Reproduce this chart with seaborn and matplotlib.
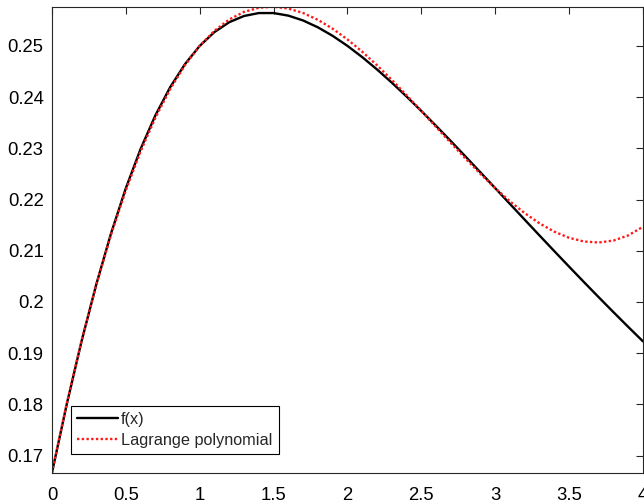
import numpy as np
import pandas as pd
import matplotlib
matplotlib.use("Agg")
import matplotlib.pyplot as plt
import seaborn as sns

x_vals = [0.0, 0.1, 0.2, 0.3, 0.4, 0.5, 0.6, 0.7, 0.8, 0.9, 1.0,
          1.1, 1.2, 1.3, 1.4, 1.5, 1.6, 1.7, 1.8, 1.9, 2.0,
          2.1, 2.2, 2.3, 2.4, 2.5, 2.6, 2.7, 2.8, 2.9, 3.0,
          3.1, 3.2, 3.3, 3.4, 3.5, 3.6, 3.7, 3.8, 3.9, 4.0]

f_vals = [0.166667, 0.180033, 0.192308, 0.203443, 0.213415, 0.222222, 0.229885, 0.236439, 0.241935, 0.246433, 0.250000,
          0.252708, 0.254630, 0.255840, 0.256410, 0.256410, 0.255906, 0.254958, 0.253623, 0.251955, 0.250000,
          0.247802, 0.245399, 0.242826, 0.240113, 0.237288, 0.234375, 0.231395, 0.228365, 0.225303, 0.222222,
          0.219134, 0.216049, 0.212977, 0.209924, 0.206897, 0.203901, 0.200941, 0.198020, 0.195141, 0.192308]

lagrange_vals = [0.166667, 0.180170, 0.192386, 0.203366, 0.213164, 0.221830, 0.229416, 0.235975, 0.241557, 0.246215, 0.250000,
                 0.252965, 0.255160, 0.256638, 0.257451, 0.257651, 0.257288, 0.256416, 0.255085, 0.253347, 0.251255,
                 0.248860, 0.246215, 0.243369, 0.240376, 0.237288, 0.234155, 0.231030, 0.227966, 0.225012, 0.222222,
                 0.219646, 0.217338, 0.215347, 0.213728, 0.212530, 0.211807, 0.211608, 0.211989, 0.212997, 0.214688]

series_labels = ["f(x)", "Lagrange polynomial"]
x_ticks = [0, 0.5, 1, 1.5, 2, 2.5, 3, 3.5, 4]
x_tick_labels = ["0", "0.5", "1", "1.5", "2", "2.5", "3", "3.5", "4"]
y_ticks = [0.17, 0.18, 0.19, 0.2, 0.21, 0.22, 0.23, 0.24, 0.25]
y_tick_labels = ["0.17", "0.18", "0.19", "0.2", "0.21", "0.22", "0.23", "0.24", "0.25"]

df = pd.DataFrame({
    "x": x_vals * 2,
    "y": f_vals + lagrange_vals,
    "series": [series_labels[0]] * len(x_vals) + [series_labels[1]] * len(x_vals),
})

sns.set_theme(style="white")
plt.rcParams["font.family"] = ["Liberation Sans", "DejaVu Sans"]

fig = plt.figure(figsize=(6.44, 5.04), dpi=100)
ax = fig.add_axes([0.0807, 0.0621, 0.9177, 0.9246])

sns.lineplot(data=df[df.series == series_labels[0]], x="x", y="y", ax=ax,
             color="black", linewidth=1.7, label=series_labels[0])
sns.lineplot(data=df[df.series == series_labels[1]], x="x", y="y", ax=ax,
             color="#ff1a1a", linewidth=1.7, linestyle=(0, (1, 1)), label=series_labels[1])

ax.set_xlim(0, 4)
ax.set_ylim(min(f_vals + lagrange_vals), max(f_vals + lagrange_vals))
ax.set_xticks(x_ticks)
ax.set_xticklabels(x_tick_labels)
ax.set_yticks(y_ticks)
ax.set_yticklabels(y_tick_labels)
ax.set_xlabel("")
ax.set_ylabel("")

spine_color = "#262626"
for s in ax.spines.values():
    s.set_visible(True)
    s.set_color(spine_color)
    s.set_linewidth(0.8)

ax.tick_params(direction="in", top=True, right=True, length=5, width=0.8,
               color=spine_color, labelcolor="black", labelsize=13.3)
ax.tick_params(axis="x", pad=10.5)
ax.tick_params(axis="y", pad=6)

leg = ax.legend(loc="lower left", bbox_to_anchor=(0.0316, 0.0395), borderaxespad=0,
                fontsize=11.7, frameon=True, fancybox=False, edgecolor="black",
                framealpha=1, handlelength=2.5, handletextpad=0.2, labelspacing=0.35,
                borderpad=0.4)
leg.get_frame().set_linewidth(0.8)

fig.savefig("out.png", dpi=100)
